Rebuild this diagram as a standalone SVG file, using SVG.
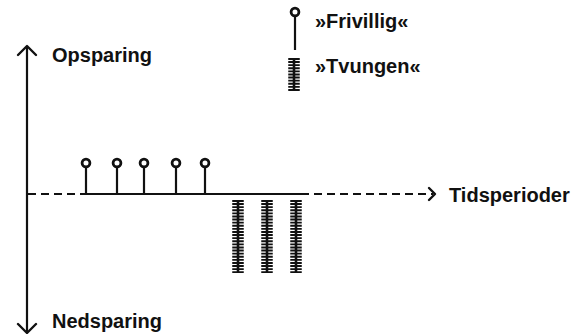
<svg xmlns="http://www.w3.org/2000/svg" width="581" height="334" viewBox="0 0 581 334">
<style>
.t{font-family:"Liberation Sans",Arial,sans-serif;font-size:20px;font-weight:bold;fill:#111}
.ax{stroke:#111;stroke-width:2.2;fill:none}
.dash{stroke:#111;stroke-width:2.2;stroke-dasharray:8 5;fill:none}
.stem{stroke:#111;stroke-width:2.2}
.head{fill:#fff;stroke:#111;stroke-width:2.8}
.barc{stroke:#111;stroke-width:2.6}
.bart{stroke:#111;stroke-width:11.5;stroke-dasharray:1.9 1.2}
.arr{stroke:#111;stroke-width:2.4;fill:none;stroke-linecap:round;stroke-linejoin:round}
</style>
<g id="connectors">
<line class="ax" x1="27" y1="47" x2="27" y2="332"/>
<path class="arr" d="M18,55 L27,46 L36,55"/>
<path class="arr" d="M18,324 L27,333 L36,324"/>
<line class="dash" x1="28" y1="194" x2="86" y2="194"/>
<line class="ax" x1="86" y1="194" x2="309" y2="194"/>
<line class="dash" x1="314" y1="194" x2="433" y2="194"/>
<path class="arr" d="M429,188 L435,194 L429,200"/>
</g>
<g id="label-opsparing"><text class="t" x="52" y="62">Opsparing</text></g>
<g id="label-nedsparing"><text class="t" x="52" y="328">Nedsparing</text></g>
<g id="label-tid"><text class="t" x="449" y="202" font-size="21">Tidsperioder</text></g>
<g id="frivillig">
<line class="stem" x1="86" y1="167" x2="86" y2="194"/><circle class="head" cx="86" cy="163" r="3.9"/>
<line class="stem" x1="117" y1="167" x2="117" y2="194"/><circle class="head" cx="117" cy="163" r="3.9"/>
<line class="stem" x1="144" y1="167" x2="144" y2="194"/><circle class="head" cx="144" cy="163" r="3.9"/>
<line class="stem" x1="176" y1="167" x2="176" y2="194"/><circle class="head" cx="176" cy="163" r="3.9"/>
<line class="stem" x1="205" y1="167" x2="205" y2="194"/><circle class="head" cx="205" cy="163" r="3.9"/>
</g>
<g id="tvungen">
<line class="barc" x1="238" y1="200" x2="238" y2="273"/><line class="bart" x1="238" y1="200" x2="238" y2="273"/>
<line class="barc" x1="267" y1="200" x2="267" y2="273"/><line class="bart" x1="267" y1="200" x2="267" y2="273"/>
<line class="barc" x1="296" y1="200" x2="296" y2="273"/><line class="bart" x1="296" y1="200" x2="296" y2="273"/>
</g>
<g id="legend-frivillig">
<line class="stem" x1="295" y1="16" x2="295" y2="50"/><circle class="head" cx="295" cy="12" r="3.9"/>
<text class="t" x="315" y="28" font-size="19">»Frivillig«</text>
</g>
<g id="legend-tvungen">
<line class="barc" x1="294" y1="58" x2="294" y2="91"/><line class="bart" x1="294" y1="58" x2="294" y2="91"/>
<text class="t" x="315" y="73" font-size="19">»Tvungen«</text>
</g>
</svg>
